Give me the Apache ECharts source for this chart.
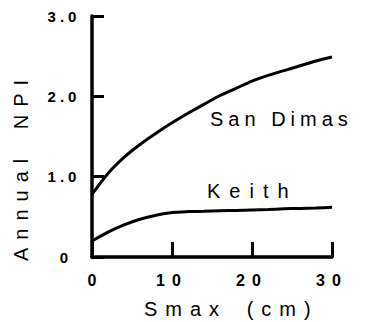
<!DOCTYPE html>
<html><head><meta charset="utf-8">
<script src="https://cdn.jsdelivr.net/npm/echarts@6/dist/echarts.min.js"></script>
<style>html,body{margin:0;padding:0;background:#fff}#c{width:368px;height:322px}</style>
</head><body><div id="c"></div>
<script>
const smax = [0, 2, 4, 6, 8, 10, 12, 14, 16, 18, 20, 22, 24, 26, 28, 30];
const sanDimas = [0.78, 1.04, 1.24, 1.40, 1.54, 1.67, 1.79, 1.90, 2.01, 2.10, 2.19, 2.26, 2.32, 2.38, 2.44, 2.49];
const keith = [0.20, 0.31, 0.40, 0.47, 0.52, 0.555, 0.565, 0.57, 0.575, 0.58, 0.585, 0.59, 0.60, 0.605, 0.61, 0.62];
const yTickLabels = ['0', '1.0', '2.0', '3.0'];
const xTickLabels = ['0', '10', '20', '30'];
const seriesNames = ['San Dimas', 'Keith'];
const xTitle = 'Smax (cm)';
const yTitle = 'Annual NPI';

const FONT = '"Liberation Sans", Arial, Helvetica, sans-serif';
const chart = echarts.init(document.getElementById('c'), null, {renderer: 'svg'});
const pair = (xs, ys) => xs.map((x, i) => [x, ys[i]]);

chart.setOption({
  animation: false,
  backgroundColor: '#fff',
  grid: {left: 92, right: 36, top: 16, bottom: 65},
  xAxis: {
    type: 'value', min: 0, max: 30, interval: 10,
    axisLine: {show: true, lineStyle: {color: '#000', width: 3.5}},
    axisTick: {show: true, inside: true, length: 15, lineStyle: {color: '#000', width: 3}},
    splitLine: {show: false},
    axisLabel: {
      margin: 15, color: '#000', fontFamily: FONT, fontWeight: 'bold', fontSize: 16,
      formatter: v => xTickLabels[Math.round(v / 10)]
    }
  },
  yAxis: {
    type: 'value', min: 0, max: 3, interval: 1,
    axisLine: {show: true, lineStyle: {color: '#000', width: 3.5}},
    axisTick: {show: true, inside: true, length: 12, lineStyle: {color: '#000', width: 3}},
    splitLine: {show: false},
    axisLabel: {
      margin: 28, align: 'center', color: '#000', fontFamily: FONT, fontWeight: 'bold', fontSize: 15,
      formatter: v => yTickLabels[Math.round(v)]
    }
  },
  series: [
    {name: seriesNames[0], type: 'line', data: pair(smax, sanDimas), smooth: 0.3, showSymbol: false,
     lineStyle: {color: '#000', width: 3}},
    {name: seriesNames[1], type: 'line', data: pair(smax, keith), smooth: 0.2, showSymbol: false,
     lineStyle: {color: '#000', width: 3}}
  ],
  graphic: [
    {type: 'text', left: 210, top: 109, style: {text: seriesNames[0], fill: '#000', font: '20px ' + FONT}},
    {type: 'text', left: 207, top: 181, style: {text: seriesNames[1], fill: '#000', font: '20px ' + FONT}},
    {type: 'text', left: 144, top: 299, style: {text: xTitle, fill: '#000', font: '20px ' + FONT}},
    {type: 'text', x: 11, y: 261, rotation: Math.PI / 2,
     style: {text: yTitle, fill: '#000', font: '20px ' + FONT, textAlign: 'left', textVerticalAlign: 'top'}}
  ]
});

const spacing = {'San Dimas': [5, 0], 'Keith': [9, 0], 'Smax (cm)': [8, 6], 'Annual NPI': [8, 8],
  '0': [0, 0], '10': [7, 0], '20': [7, 0], '30': [7, 0], '1.0': [4, 0], '2.0': [4, 0], '3.0': [4, 0]};
function applySpacing() {
  document.querySelectorAll('#c text').forEach(t => {
    const s = spacing[t.textContent];
    if (s) {
      t.setAttribute('letter-spacing', s[0] + 'px');
      t.setAttribute('word-spacing', s[1] + 'px');
    }
  });
}
chart.on('finished', applySpacing);
setTimeout(applySpacing, 50);
setTimeout(applySpacing, 300);
</script>
</body></html>
